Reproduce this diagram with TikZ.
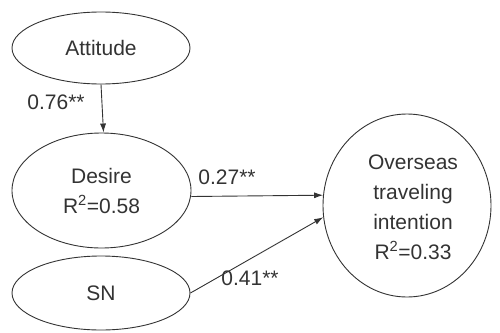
\documentclass[tikz,border=0pt]{standalone}
\usepackage{fontspec}
\setmainfont{Liberation Sans}
\usetikzlibrary{shapes.geometric,arrows.meta}
\begin{document}
\begin{tikzpicture}[x=1pt,y=-1pt,
  oval/.style={ellipse,draw=black!80,line width=0.9pt,inner sep=0pt,align=center,
    font=\fontsize{21}{30}\selectfont,text=black!80},
  lbl/.style={font=\fontsize{21}{24}\selectfont,text=black!80,inner sep=0pt},
  arr/.style={draw=black!80,line width=0.9pt,-{Latex[length=9pt,width=6pt]}}]
\useasboundingbox (0,0) rectangle (500,332);
\node[oval,minimum width=178,minimum height=72] (att) at (101,48) {Attitude};
\node[oval,minimum width=179,minimum height=115] (des) at (101.5,190.5) {Desire\\R\textsuperscript{2}=0.58};
\node[oval,minimum width=178,minimum height=74] (sn) at (101,293) {SN};
\node[oval,minimum width=168,minimum height=183] (ov) at (407,205.5) {};
\node[align=center,font=\fontsize{21}{30}\selectfont,text=black!80,inner sep=0pt] (ovt) at (413,207)
  {Overseas\\traveling\\intention\\R\textsuperscript{2}=0.33};
\node[lbl] (l1) at (56,102) {0.76**};
\node[lbl] (l2) at (227,177) {0.27**};
\node[lbl] (l3) at (250,278) {0.41**};
\draw[arr] (att.south) -- ([xshift=2pt]des.north);
\draw[arr] ([yshift=-6pt]des.east) -- (ov.173);
\draw[arr] (sn.east) -- (ov.188);
\end{tikzpicture}
\end{document}
